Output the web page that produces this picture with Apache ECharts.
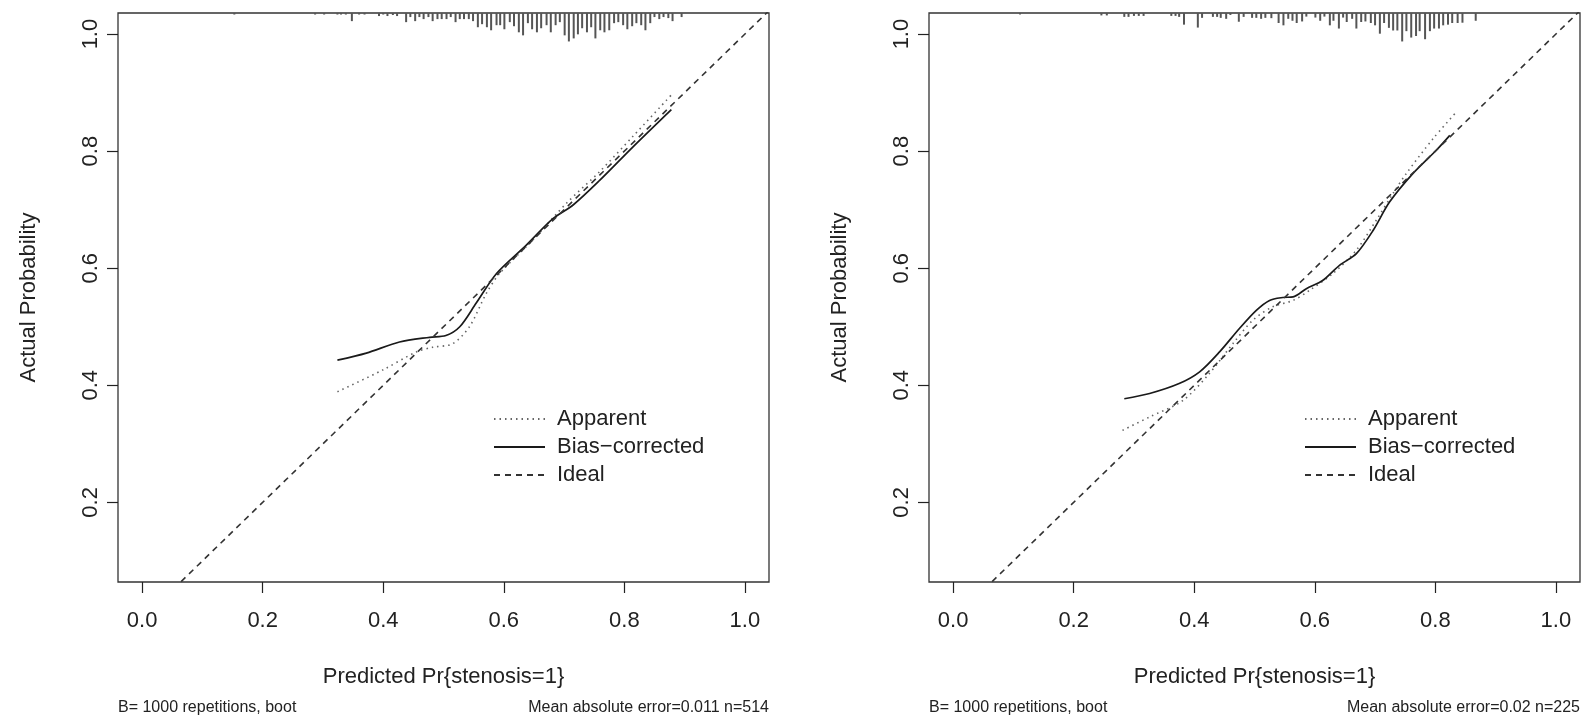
<!DOCTYPE html>
<html>
<head>
<meta charset="utf-8">
<script src="https://cdn.jsdelivr.net/npm/echarts@6/dist/echarts.min.js"></script>
<style>
  html, body { margin: 0; padding: 0; background: #fff; }
  #chart { width: 1595px; height: 727px; }
</style>
</head>
<body>
<div id="chart"></div>
<script>
// axis settings (R style: 4% extension past the data limits)
var xLim = [-0.04, 1.04];
var yLim = [0.064, 1.036];
var xTicks = [0, 0.2, 0.4, 0.6, 0.8, 1.0];
var yTicks = [0.2, 0.4, 0.6, 0.8, 1.0];
// R draws the hyphen as a minus sign
var seriesNames = ['Apparent', 'Bias\u2212corrected', 'Ideal'];

// left panel (n=514)
var leftApparent = [[0.324,0.389],[0.399,0.426],[0.455,0.457],[0.482,0.465],[0.515,0.471],[0.543,0.500],
  [0.571,0.557],[0.593,0.591],[0.648,0.648],[0.704,0.711],[0.759,0.765],[0.814,0.825],[0.878,0.896]];
var leftBias = [[0.324,0.443],[0.372,0.455],[0.427,0.474],[0.477,0.482],[0.504,0.485],[0.527,0.500],
  [0.554,0.540],[0.588,0.591],[0.637,0.639],[0.682,0.685],[0.715,0.708],[0.759,0.750],[0.814,0.807],[0.878,0.871]];
var leftRugX = [0.153,0.287,0.302,0.324,0.330,0.338,0.348,0.360,0.369,0.393,0.400,0.407,0.416,0.423,0.438,0.445,
  0.453,0.460,0.467,0.475,0.482,0.490,0.497,0.505,0.512,0.520,0.527,0.534,0.542,0.549,0.557,0.564,0.572,0.579,0.588,
  0.594,0.601,0.610,0.617,0.625,0.632,0.640,0.647,0.655,0.662,0.671,0.678,0.686,0.693,0.701,0.708,0.716,0.723,0.730,
  0.738,0.745,0.752,0.760,0.767,0.775,0.783,0.790,0.798,0.805,0.813,0.820,0.828,0.835,0.843,0.850,0.858,0.865,0.873,
  0.880,0.895,0.902];
var leftRugFreq = [1.5,1.5,1.5,1.5,1.5,1.5,8,1.5,1.5,3,1.5,3,2,3,9,4,
  8,4,6,4,8,6,6,6,4,9,6,6,6,8,14,11,14,17,12,
  12,16,9,13,19,22,10,16,19,15,12,19,12,9,22,28,25,21,
  15,19,14,25,17,19,17,10,9,12,16,13,10,12,17,10,4,6,4,
  5,8,4];
var leftNote = 'Mean absolute error=0.011 n=514';

// right panel (n=225)
var rightApparent = [[0.281,0.323],[0.326,0.346],[0.381,0.374],[0.425,0.420],[0.464,0.471],[0.497,0.511],
  [0.530,0.534],[0.564,0.545],[0.591,0.562],[0.630,0.591],[0.669,0.631],[0.702,0.682],[0.730,0.728],
  [0.752,0.762],[0.796,0.821],[0.835,0.867]];
var rightBias = [[0.284,0.377],[0.326,0.386],[0.375,0.403],[0.409,0.423],[0.442,0.457],[0.475,0.497],
  [0.503,0.528],[0.525,0.545],[0.547,0.550],[0.564,0.551],[0.586,0.565],[0.613,0.579],[0.641,0.605],
  [0.669,0.625],[0.697,0.665],[0.724,0.713],[0.763,0.762],[0.802,0.802],[0.824,0.827]];
var rightRugX = [0.111,0.246,0.255,0.284,0.291,0.300,0.308,0.316,0.362,0.369,0.375,0.383,0.406,0.413,0.431,0.438,
  0.444,0.453,0.460,0.474,0.482,0.496,0.503,0.511,0.518,0.528,0.540,0.548,0.556,0.563,0.570,0.579,0.586,0.601,
  0.609,0.616,0.625,0.631,0.640,0.647,0.653,0.662,0.669,0.677,0.684,0.693,0.700,0.708,0.715,0.723,0.730,0.737,
  0.745,0.752,0.760,0.768,0.774,0.783,0.791,0.798,0.806,0.813,0.821,0.828,0.837,0.845,0.867];
var rightRugFreq = [1.5,2.5,2.5,4,4,3,3,3,3,3,4,12,15,5,4,4,
  5,6,2,9,4,5,5,6,5,5.3,10.3,12.7,6,8,10.3,8.7,3.7,4.7,
  8,3.7,12.7,8,16,4.7,9.3,6,16,9.3,8.7,10.3,12.7,21.3,10.3,15.3,18,18,
  29.3,18.7,25.3,23.7,18.7,27,18.7,16,16,12.7,12,10.3,10.3,10,8];
var rightNote = 'Mean absolute error=0.02 n=225';

var bootNote = 'B= 1000 repetitions, boot';
var xTitle = 'Predicted Pr{stenosis=1}';
var yTitle = 'Actual Probability';

var font = 'Liberation Sans, Arial, sans-serif';
var ink = '#222';

function pairs(xs, fs) {
  var out = [];
  for (var i = 0; i < xs.length; i++) out.push([xs[i], fs[i]]);
  return out;
}

// spikes hang down from the top edge, longest = 5% of the y range
function rugRenderer(freqs) {
  var fMax = Math.max.apply(null, freqs);
  return function (params, api) {
    var x = api.value(0), f = api.value(1);
    var top = api.coord([x, yLim[1]]);
    var bot = api.coord([x, yLim[1] - f / fMax * 0.05 * (yLim[1] - yLim[0])]);
    return {
      type: 'line',
      shape: { x1: top[0], y1: top[1], x2: bot[0], y2: bot[1] },
      style: { stroke: '#555', lineWidth: 2 }
    };
  };
}

function makeXAxis(idx) {
  return {
    type: 'value', gridIndex: idx, min: xLim[0], max: xLim[1],
    splitLine: { show: false },
    axisLine: { show: false, onZero: false },
    axisTick: { show: true, inside: false, length: 11, customValues: xTicks, lineStyle: { color: ink, width: 1.2 } },
    axisLabel: { customValues: xTicks, margin: 28, fontSize: 22, color: ink, fontFamily: font,
      formatter: function (v) { return v.toFixed(1); } },
    name: xTitle, nameLocation: 'middle', nameGap: 84,
    nameTextStyle: { fontSize: 22, color: ink, fontFamily: font }
  };
}

function makeYAxis(idx) {
  return {
    type: 'value', gridIndex: idx, min: yLim[0], max: yLim[1],
    splitLine: { show: false },
    axisLine: { show: false, onZero: false },
    axisTick: { show: true, inside: false, length: 11, customValues: yTicks, lineStyle: { color: ink, width: 1.2 } },
    axisLabel: { customValues: yTicks, margin: 16, rotate: 90, fontSize: 22, color: ink, fontFamily: font,
      formatter: function (v) { return v.toFixed(1); } },
    name: yTitle, nameLocation: 'middle', nameGap: 78,
    nameTextStyle: { fontSize: 22, color: ink, fontFamily: font }
  };
}

function panelSeries(idx, apparent, bias, rugX, rugFreq) {
  return [
    {
      name: seriesNames[0], type: 'line', xAxisIndex: idx, yAxisIndex: idx,
      data: apparent, smooth: 0.3, symbol: 'none', clip: true,
      itemStyle: { color: '#666' },
      lineStyle: { color: '#666', width: 1.6, type: [1.5, 4] }
    },
    {
      name: seriesNames[1], type: 'line', xAxisIndex: idx, yAxisIndex: idx,
      data: bias, smooth: 0.3, symbol: 'none', clip: true,
      itemStyle: { color: '#1a1a1a' },
      lineStyle: { color: '#1a1a1a', width: 1.7, type: 'solid' }
    },
    {
      name: seriesNames[2], type: 'line', xAxisIndex: idx, yAxisIndex: idx,
      data: [[xLim[0], xLim[0]], [xLim[1], xLim[1]]], symbol: 'none', clip: true,
      itemStyle: { color: '#333' },
      lineStyle: { color: '#333', width: 1.6, type: [6, 5] }
    },
    {
      name: 'rug' + idx, type: 'custom', xAxisIndex: idx, yAxisIndex: idx,
      data: pairs(rugX, rugFreq), renderItem: rugRenderer(rugFreq), silent: true
    }
  ];
}

function makeLegend(left) {
  return {
    data: seriesNames, orient: 'vertical', left: left, top: 403,
    itemWidth: 51, itemHeight: 14, itemGap: 6, selectedMode: false,
    itemStyle: { color: 'rgba(0,0,0,0)', borderWidth: 0, opacity: 0 },
    textStyle: { fontSize: 22, lineHeight: 22, color: ink, fontFamily: font, padding: [0, 0, 0, 7] }
  };
}

function note(text, pos) {
  var t = { text: text, top: 700, textStyle: { fontSize: 16, fontWeight: 'normal', color: ink, fontFamily: font }, padding: 0 };
  for (var k in pos) t[k] = pos[k];
  return t;
}

var chart = echarts.init(document.getElementById('chart'), null, { renderer: 'canvas' });
chart.setOption({
  animation: false,
  backgroundColor: '#fff',
  grid: [
    { left: 118, top: 13, width: 651, height: 569, show: true, borderColor: '#333', borderWidth: 1.3, backgroundColor: 'transparent' },
    { left: 929, top: 13, width: 651, height: 569, show: true, borderColor: '#333', borderWidth: 1.3, backgroundColor: 'transparent' }
  ],
  xAxis: [makeXAxis(0), makeXAxis(1)],
  yAxis: [makeYAxis(0), makeYAxis(1)],
  legend: [makeLegend(488), makeLegend(1299)],
  title: [
    note(bootNote, { left: 118 }),
    note(leftNote, { right: 1595 - 769 }),
    note(bootNote, { left: 929 }),
    note(rightNote, { right: 1595 - 1580 })
  ],
  series: panelSeries(0, leftApparent, leftBias, leftRugX, leftRugFreq)
    .concat(panelSeries(1, rightApparent, rightBias, rightRugX, rightRugFreq))
});
</script>
</body>
</html>
